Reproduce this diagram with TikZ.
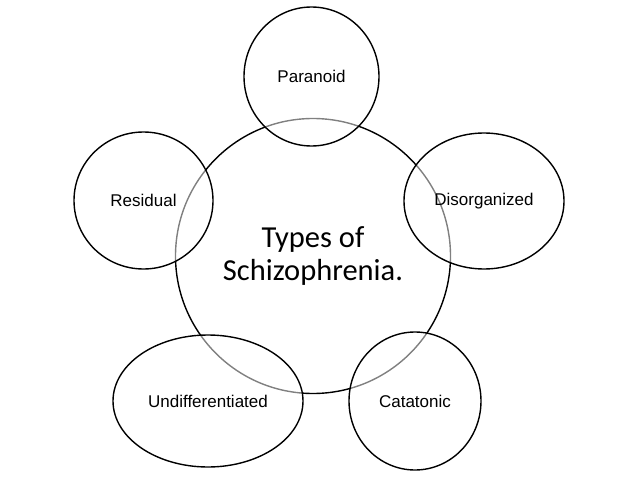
\documentclass[tikz,border=0pt]{standalone}
\usepackage{fontspec}
\setmainfont{Liberation Sans}
\newfontfamily\calib{Carlito}
\usetikzlibrary{shapes.geometric}
\begin{document}
\begin{tikzpicture}[x=1pt,y=-1pt,
  outer/.style={draw=black,line width=1.4pt,fill=white,fill opacity=0.5,text opacity=1,inner sep=0pt,font=\fontsize{17}{20}\selectfont},
  ring/.style={outer,ellipse,minimum width=#1},
]
\useasboundingbox (0,0) rectangle (638,479);
\node[draw=black,line width=1.4pt,circle,minimum size=275pt,inner sep=0pt,align=center,
  font=\calib\fontsize{30.5}{34}\selectfont] (center) at (313,256) {Types of\\[-1pt]Schizophrenia.};
\node[outer,ellipse,minimum width=135pt,minimum height=139pt] (par) at (311.5,76.5) {Paranoid};
\node[outer,ellipse,minimum width=139pt,minimum height=137pt] (res) at (143.5,200.5) {Residual};
\node[outer,ellipse,minimum width=160pt,minimum height=136pt] (dis) at (484,201) {Disorganized};
\node[outer,ellipse,minimum width=190pt,minimum height=132pt] (und) at (208,401) {Undifferentiated};
\node[outer,ellipse,minimum width=132pt,minimum height=138pt] (cat) at (415,401) {Catatonic};
\end{tikzpicture}
\end{document}
